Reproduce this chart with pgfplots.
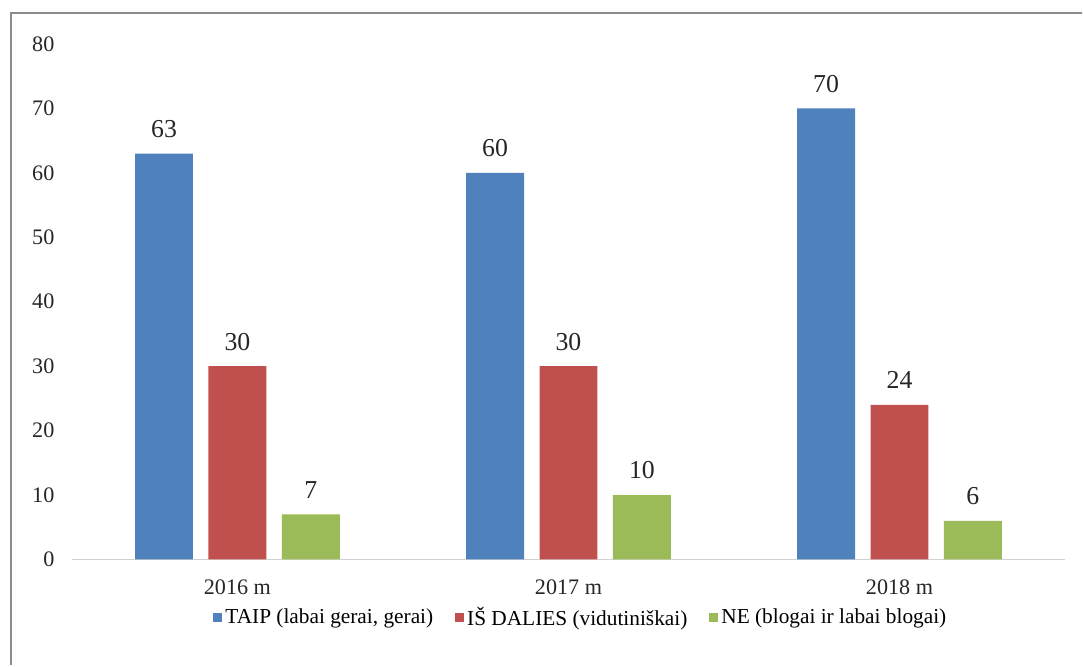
\documentclass[border=0pt]{standalone}
\usepackage{pgfplots}
\pgfplotsset{compat=1.18}
\usepackage{fontspec}
\setmainfont{Liberation Serif}

\definecolor{cblue}{HTML}{4F81BD}
\definecolor{cred}{HTML}{C0504D}
\definecolor{cgreen}{HTML}{9BBB59}

\begin{document}
\begin{tikzpicture}
% page size (1083 x 666 px at 0.6pt per px) and outer frame
\path (0pt,0pt) rectangle (649.8pt,399.6pt);
\draw[color=gray!90, line width=1.2pt] (6.6pt,0pt) -- (6.6pt,391.8pt) -- (649.8pt,391.8pt);

\begin{axis}[
    at={(43.2pt,63.6pt)}, anchor=south west,
    scale only axis,
    width=596.4pt, height=309.6pt,
    xmin=-0.5, xmax=2.5,
    ymin=0, ymax=80,
    axis x line*=bottom, axis y line*=left,
    x axis line style={draw=gray!35, line width=0.9pt, -},
    y axis line style={draw=none},
    major tick length=0pt,
    xtick={0,1,2},
    xticklabels={2016 m,2017 m,2018 m},
    ytick={0,10,...,80},
    /pgf/number format/assume math mode=true,
    tick label style={font=\fontsize{13.3}{15}\selectfont, color=black!85},
    yticklabel style={xshift=-7pt},
    xticklabel style={yshift=-8.5pt},
    ybar=9.3pt, bar width=34.8pt,
    nodes near coords,
    nodes near coords style={font=\fontsize{15.5}{17}\selectfont, color=black!85, yshift=6pt},
    legend style={at={(0.513,-0.113)}, anchor=center, draw=none, fill=none,
        legend columns=-1, font=\fontsize{12.8}{14}\selectfont,
        /tikz/every even column/.append style={column sep=11pt},
        /tikz/every odd column/.append style={column sep=0pt},
        inner sep=0pt},
    legend image code/.code={\fill[#1] (0pt,-2.7pt) rectangle (5.4pt,2.7pt);},
]
\addplot[fill=cblue, draw=none] coordinates {(0,63) (1,60) (2,70)};
\addlegendentry{TAIP (labai gerai, gerai)}
\addplot[fill=cred, draw=none] coordinates {(0,30) (1,30) (2,24)};
\addlegendentry{IŠ DALIES (vidutiniškai)}
\addplot[fill=cgreen, draw=none] coordinates {(0,7) (1,10) (2,6)};
\addlegendentry{NE (blogai ir labai blogai)}
\end{axis}
\end{tikzpicture}
\end{document}
